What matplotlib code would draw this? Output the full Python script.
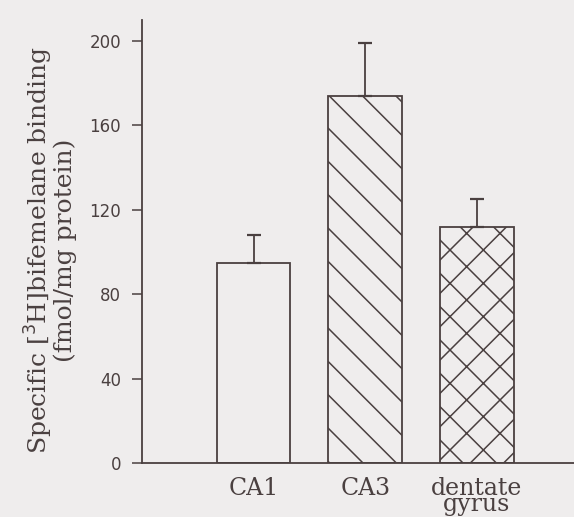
import matplotlib
matplotlib.use("Agg")
import matplotlib.pyplot as plt
import numpy as np

# Data
categories = ["CA1", "CA3", "dentate\ngyrus"]
values = [95, 174, 112]
errors = [13, 25, 13]
hatches = ["", "\\", "x"]
yticks = [0, 40, 80, 120, 160, 200]

ink = "#4a4040"
bg = "#efeded"

plt.rcParams["hatch.linewidth"] = 1.1
plt.rcParams["hatch.color"] = ink

fig = plt.figure(figsize=(5.74, 5.17), dpi=100, facecolor=bg)
ax = fig.add_axes([0.2474, 0.1044, 0.7526, 0.857])
ax.set_facecolor(bg)

x = np.arange(len(categories))
bars = ax.bar(x, values, width=0.66, color=bg, edgecolor=ink, linewidth=1.3)
for b, h in zip(bars, hatches):
    b.set_hatch(h)
ax.errorbar(x, values, yerr=[np.zeros(len(errors)), errors], fmt="none",
            ecolor=ink, elinewidth=1.3, capsize=5, capthick=1.6)

ax.set_xlim(-1.0, 2.87)
ax.set_ylim(0, 210)
ax.set_yticks(yticks)
ax.set_yticklabels([str(v) for v in yticks], fontsize=12, color=ink,
                   family="DejaVu Sans")
ax.set_xticks(x)
ax.set_xticklabels(categories, fontsize=17, color=ink, family="DejaVu Serif")
for lab in ax.get_xticklabels():
    lab.set_linespacing(0.62)

ax.tick_params(axis="y", length=7, width=1.1, color=ink, pad=8)
ax.tick_params(axis="x", length=0, pad=10)

for s in ["top", "right"]:
    ax.spines[s].set_visible(False)
for s in ["left", "bottom"]:
    ax.spines[s].set_color(ink)
    ax.spines[s].set_linewidth(1.3)

ax.set_ylabel("Specific [$^3$H]bifemelane binding\n(fmol/mg protein)",
              fontsize=18, color=ink, family="DejaVu Serif", linespacing=0.95)
ax.yaxis.set_label_coords(-0.15, 0.48)

fig.savefig("out.png", dpi=100, facecolor=bg)
